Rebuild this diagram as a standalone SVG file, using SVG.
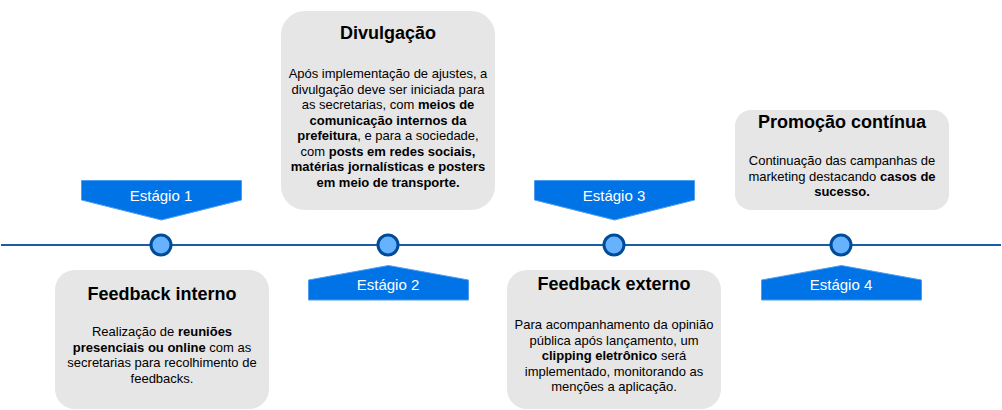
<svg xmlns="http://www.w3.org/2000/svg" width="1002" height="410" viewBox="0 0 1002 410">
<style>
.card{fill:#E6E6E6;stroke:none}
.t{font-family:"Liberation Sans",Arial,sans-serif;font-size:18px;font-weight:bold;fill:#000;text-anchor:middle}
.b{font-family:"Liberation Sans",Arial,sans-serif;font-size:13px;fill:#000;text-anchor:middle}
.b tspan.s{font-weight:bold}
.ban{fill:#0073E6;stroke:#4D9DF0;stroke-width:1}
.bt{font-family:"Liberation Sans",Arial,sans-serif;font-size:15px;fill:#fff;text-anchor:middle}
.dot{fill:#66B2FF;stroke:#004C99;stroke-width:3}
.line{stroke:#1A5DA3;stroke-width:2;fill:none}
</style>
<rect width="1002" height="410" fill="#fff"/>
<g id="connectors">
<line class="line" x1="1" y1="245" x2="1001" y2="245"/>
</g>
<g id="dot1"><circle class="dot" cx="161" cy="245" r="10"/></g>
<g id="dot2"><circle class="dot" cx="388" cy="245" r="10"/></g>
<g id="dot3"><circle class="dot" cx="614" cy="245" r="10"/></g>
<g id="dot4"><circle class="dot" cx="841" cy="245" r="10"/></g>
<g id="stage1">
<polygon class="ban" points="81.5,180.5 241.5,180.5 241.5,200 161.5,220 81.5,200"/>
<text class="bt" x="161" y="201">Estágio 1</text>
</g>
<g id="stage2">
<polygon class="ban" points="308.5,300 468.5,300 468.5,280 388.5,265.5 308.5,280"/>
<text class="bt" x="388" y="290">Estágio 2</text>
</g>
<g id="stage3">
<polygon class="ban" points="534.5,180.5 694.5,180.5 694.5,200 614.5,220 534.5,200"/>
<text class="bt" x="614" y="201">Estágio 3</text>
</g>
<g id="stage4">
<polygon class="ban" points="761.5,300 921.5,300 921.5,280 841.5,265.5 761.5,280"/>
<text class="bt" x="841" y="290">Estágio 4</text>
</g>
<g id="card1">
<rect class="card" x="55" y="270" width="214" height="139" rx="20"/>
<text class="t" x="162" y="300">Feedback interno</text>
<text class="b" y="336"><tspan x="162">Realização de <tspan class="s">reuniões</tspan></tspan><tspan x="162" dy="15.5"><tspan class="s">presenciais ou online</tspan> com as</tspan><tspan x="162" dy="15.5">secretarias para recolhimento de</tspan><tspan x="162" dy="15.5">feedbacks.</tspan></text>
</g>
<g id="card2">
<rect class="card" x="281" y="11" width="214" height="199" rx="24"/>
<text class="t" x="388" y="39">Divulgação</text>
<text class="b" y="78"><tspan x="388">Após implementação de ajustes, a</tspan><tspan x="388" dy="15.5">divulgação deve ser iniciada para</tspan><tspan x="388" dy="15.5">as secretarias, com <tspan class="s">meios de</tspan></tspan><tspan x="388" dy="15.5" class="s">comunicação internos da</tspan><tspan x="388" dy="15.5"><tspan class="s">prefeitura</tspan>, e para a sociedade,</tspan><tspan x="388" dy="15.5">com <tspan class="s">posts em redes sociais,</tspan></tspan><tspan x="388" dy="15.5" class="s">matérias jornalísticas e posters</tspan><tspan x="388" dy="15.5" class="s">em meio de transporte.</tspan></text>
</g>
<g id="card3">
<rect class="card" x="507" y="270" width="214" height="139" rx="20"/>
<text class="t" x="614" y="290">Feedback externo</text>
<text class="b" y="329"><tspan x="614">Para acompanhamento da opinião</tspan><tspan x="614" dy="15.5">pública após lançamento, um</tspan><tspan x="614" dy="15.5"><tspan class="s">clipping eletrônico</tspan> será</tspan><tspan x="614" dy="15.5">implementado, monitorando as</tspan><tspan x="614" dy="15.5">menções a aplicação.</tspan></text>
</g>
<g id="card4">
<rect class="card" x="735" y="110" width="214" height="100" rx="16"/>
<text class="t" x="842" y="128">Promoção contínua</text>
<text class="b" y="165"><tspan x="842">Continuação das campanhas de</tspan><tspan x="842" dy="15.5">marketing destacando <tspan class="s">casos de</tspan></tspan><tspan x="842" dy="15.5" class="s">sucesso.</tspan></text>
</g>
</svg>
